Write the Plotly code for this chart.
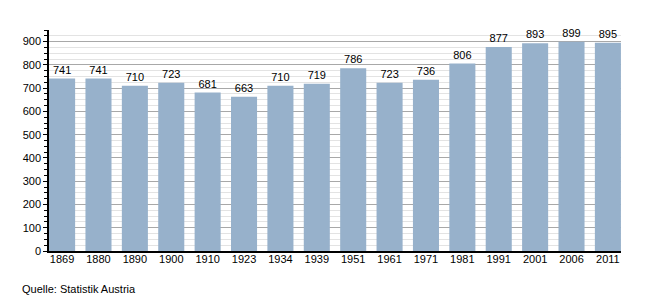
import plotly.graph_objects as go

years = ["1869", "1880", "1890", "1900", "1910", "1923", "1934", "1939",
         "1951", "1961", "1971", "1981", "1991", "2001", "2006", "2011"]
population = [741, 741, 710, 723, 681, 663, 710, 719,
              786, 723, 736, 806, 877, 893, 899, 895]
y_ticks = [0, 100, 200, 300, 400, 500, 600, 700, 800, 900]
source_text = "Quelle: Statistik Austria"

FONT = "Liberation Sans, Arial, sans-serif"

fig = go.Figure(go.Bar(
    x=years,
    y=population,
    marker=dict(color="#97b1cb", line=dict(width=0)),
    text=[str(v) for v in population],
    textposition="outside",
    textfont=dict(family=FONT, size=11, color="#000000"),
    cliponaxis=False,
))

fig.update_layout(
    width=650, height=300,
    margin=dict(l=49, r=29, t=30, b=49),
    paper_bgcolor="white", plot_bgcolor="white",
    bargap=0.284,
    showlegend=False,
    font=dict(family=FONT, size=11, color="#000000"),
    annotations=[dict(
        text=source_text, xref="paper", yref="paper",
        x=-29/572, y=-38/221, xanchor="left", yanchor="middle",
        showarrow=False, font=dict(family=FONT, size=11, color="#000000"),
    )],
)

fig.update_xaxes(
    type="category",
    range=[-0.36, 15.36],
    showline=True, linecolor="#000000", linewidth=1.5,
    showgrid=False, ticks="", ticklabelstandoff=-3,
    tickfont=dict(family=FONT, size=11, color="#000000"),
)

fig.update_yaxes(
    range=[0, 950],
    tickvals=y_ticks,
    showline=True, linecolor="#000000", linewidth=1.5,
    ticks="outside", ticklen=4, tickcolor="#000000", tickwidth=1,
    showgrid=True, gridcolor="#a8a8a8", gridwidth=1,
    zeroline=False,
    tickfont=dict(family=FONT, size=11, color="#000000"),
    minor=dict(dtick=25, tick0=0, ticks="outside", ticklen=3,
               tickcolor="#000000", showgrid=True, gridcolor="#e3e3e3",
               gridwidth=1),
)

fig.write_html("out.html")
